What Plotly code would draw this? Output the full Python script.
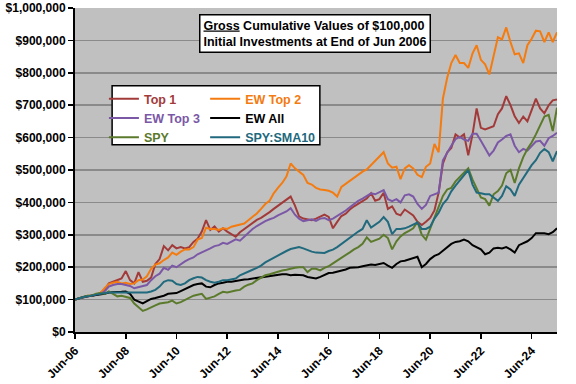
import plotly.graph_objects as go

# bimonthly observation dates, Jun 2006 .. Jun 2025
dates = [f"{2006 + (5 + 2 * i) // 12}-{(5 + 2 * i) % 12 + 1:02d}-01" for i in range(115)]

top1 = [100,104,108,110,112,115,120,130,150,155,
        160,165,188,160,150,185,155,158,168,210,
        225,265,252,268,258,262,258,262,278,288,
        310,345,315,326,310,320,310,302,294,308,
        318,325,335,346,352,360,370,380,390,400,
        410,418,390,357,350,348,345,350,355,362,
        355,320,340,358,365,378,388,396,404,412,
        428,405,410,430,380,388,365,360,378,370,
        360,340,330,340,352,375,430,520,555,568,
        610,600,610,545,610,690,630,625,630,635,
        672,690,728,700,666,645,665,650,685,720,
        690,675,700,715,718]
ew_top2 = [100,104,110,112,112,115,120,135,148,152,
           155,150,152,148,150,160,162,172,195,208,
           212,222,230,245,238,248,255,255,262,285,
           290,322,318,318,315,320,318,325,328,330,
           335,345,355,366,380,395,405,428,445,460,
           480,520,505,495,485,460,455,445,440,438,
           436,430,418,448,458,468,478,488,495,502,
           515,527,540,555,520,507,510,472,505,515,
           505,485,478,510,520,580,555,720,785,830,
           855,830,830,815,860,885,840,826,795,850,
           910,903,940,895,857,860,830,885,905,930,
           928,895,925,895,925]
ew_top3 = [100,104,108,110,112,114,118,125,140,145,
           148,148,145,142,135,138,140,145,160,172,
           180,198,192,205,200,210,218,225,230,240,
           245,252,258,265,268,275,272,280,286,282,
           295,305,318,327,335,342,348,352,360,365,
           372,382,362,350,342,345,348,343,350,352,
           345,350,358,368,375,385,395,405,412,420,
           428,425,432,438,410,404,410,400,422,425,
           418,395,380,392,420,425,430,530,555,575,
           595,602,594,590,612,612,590,565,545,560,
           585,594,605,610,575,555,565,560,575,588,
           590,575,598,605,615]
ew_all = [100,105,108,110,112,115,115,118,122,122,
          122,124,125,118,100,95,88,95,102,105,
          108,112,118,120,120,126,132,138,145,148,
          150,140,138,145,150,152,155,155,158,160,
          162,163,165,168,170,172,172,175,177,178,
          178,175,177,176,175,170,168,165,170,175,
          182,183,186,190,193,198,198,200,203,205,
          208,207,209,213,205,198,210,218,220,224,
          228,232,200,210,225,235,240,250,262,272,
          278,280,285,280,268,262,255,240,245,258,
          260,258,262,255,245,268,275,280,290,305,
          305,305,302,308,320]
spy = [100,103,108,112,113,118,120,118,125,118,
       110,112,108,105,88,75,65,70,75,82,
       88,90,92,97,88,92,98,105,112,115,
       118,102,105,110,118,124,122,126,128,130,
       140,146,150,160,168,175,178,182,186,190,
       192,196,198,200,200,185,195,195,190,198,
       203,212,220,230,238,246,255,262,272,292,
       278,282,288,300,290,255,280,295,305,312,
       320,340,300,285,320,355,385,420,440,445,
       465,478,490,505,470,445,415,410,390,425,
       435,452,490,500,460,505,540,565,585,610,
       640,665,670,620,692]
spy_sma10 = [100,105,108,110,113,116,118,120,122,122,
             122,122,122,122,122,122,122,122,125,130,
             140,155,160,158,148,145,150,160,166,170,
             168,160,155,152,155,160,160,162,165,175,
             180,185,192,198,205,215,222,230,238,245,
             250,256,260,262,258,252,248,245,245,244,
             250,254,262,272,280,290,300,310,318,345,
             322,330,340,355,340,302,318,318,320,325,
             332,338,318,318,325,350,368,395,410,434,
             452,468,482,500,455,430,428,425,425,415,
             405,420,450,440,420,455,475,495,515,530,
             553,565,555,527,558]

series = [
    ("Top 1", top1, "#A33A3A", "legend"),
    ("EW Top 2", ew_top2, "#F47B10", "legend2"),
    ("EW Top 3", ew_top3, "#7B58A6", "legend"),
    ("EW All", ew_all, "#000000", "legend2"),
    ("SPY", spy, "#5B7A2C", "legend"),
    ("SPY:SMA10", spy_sma10, "#21697D", "legend2"),
]

tick_years = list(range(2006, 2025, 2))
tickvals = [f"{y}-06-01" for y in tick_years]
ticktext = [f"Jun-{y % 100:02d}" for y in tick_years]

fig = go.Figure()
for name, vals, color, lg in series:
    fig.add_trace(go.Scatter(
        x=dates, y=[v * 1000 for v in vals], mode="lines",
        line=dict(color=color, width=2),
        name=f"<span style='color:{color}'>{name}</span>",
        legend=lg, legendgroup=name, hoverinfo="skip",
    ))

legend_common = dict(
    bgcolor="rgba(0,0,0,0)", borderwidth=0,
    font=dict(family="Liberation Sans", size=12.5, weight="bold"),
    itemwidth=30, orientation="v", yanchor="top", xanchor="left",
    tracegroupgap=0, itemclick=False,
)

tickfont = dict(family="Liberation Sans", size=12, color="black", weight="bold")

fig.update_layout(
    width=576, height=384,
    margin=dict(l=75, r=19, t=8, b=52, autoexpand=False),
    paper_bgcolor="white", plot_bgcolor="#C0C0C0",
    showlegend=True, hovermode=False,
    legend=dict(x=0.060, y=0.765, **legend_common),
    legend2=dict(x=0.270, y=0.765, **legend_common),
    xaxis=dict(
        type="date", range=["2006-06-01", "2025-06-01"],
        tickvals=tickvals, ticktext=ticktext, tickangle=-45,
        tickfont=tickfont, automargin=False,
        showgrid=False, showline=True, linecolor="black", linewidth=2,
        ticks="outside", ticklen=5, tickcolor="black", tickwidth=1.5,
    ),
    yaxis=dict(
        range=[0, 1000000], dtick=100000, tickformat="$,.0f",
        tickfont=tickfont, automargin=False,
        showgrid=True, gridcolor="#8A8A8A", gridwidth=1.5,
        showline=True, linecolor="black", linewidth=2,
        ticks="outside", ticklen=5, tickcolor="black", tickwidth=1.5,
        zeroline=False,
    ),
    shapes=[dict(
        type="rect", xref="paper", yref="paper",
        x0=0.077, x1=0.508, y0=0.578, y1=0.760,
        fillcolor="white", line=dict(color="black", width=1.5), layer="above",
    )],
    annotations=[dict(
        xref="paper", yref="paper", x=0.497, y=0.920,
        xanchor="center", yanchor="middle", showarrow=False,
        text="<u>Gross</u> Cumulative Values of $100,000<br>Initial Investments at End of Jun 2006",
        font=dict(family="Liberation Sans", size=12.5, color="black", weight="bold"),
        bgcolor="white", bordercolor="black", borderwidth=1.5, borderpad=3,
        align="left",
    )],
)

fig.write_html(
    "out.html",
    config={"displayModeBar": False, "staticPlot": True},
    post_script="document.body.style.margin='0';document.body.style.overflow='hidden';",
)
